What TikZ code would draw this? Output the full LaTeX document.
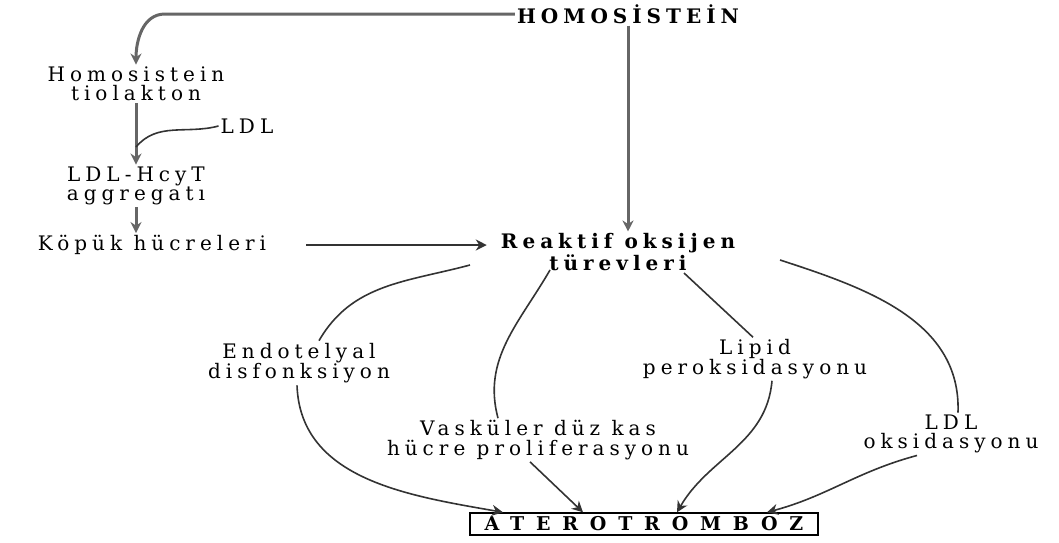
\documentclass[tikz,border=0pt]{standalone}
\usepackage{fontspec}
\setmainfont{DejaVu Serif}[LetterSpace=25]
\usetikzlibrary{arrows.meta,positioning}

\begin{document}
\begin{tikzpicture}[x=1pt, y=1pt, font=\fontsize{20}{19.5}\selectfont]
\tikzstyle{lbl}=[align=center, inner sep=2pt]
\tikzstyle{key}=[lbl, font=\fontsize{20}{19.5}\selectfont\bfseries]
\tikzstyle{ln}=[line width=1.6pt, draw=black!80]
\tikzstyle{arr}=[ln, -{Stealth[length=11pt,width=11pt]}]
\tikzstyle{thk}=[arr, line width=3pt, draw=black!60]
\useasboundingbox (0,0) rectangle (1059,-542);
% left column
\node[key] (homo) at (628,-14) {HOMOSİSTEİN};
\node[lbl] (tiol) at (136,-84) {Homosistein\\tiolakton};
\node[lbl] (ldl) at (247,-126) {LDL};
\node[lbl] (agg) at (136,-186) {LDL-HcyT\\aggregatı};
\node[lbl] (kopuk) at (152,-245) {Köpük hücreleri};
\node[key] (ros) at (618,-252) {Reaktif oksijen\\türevleri};
% effects
\node[lbl] (endo) at (299,-363) {Endotelyal\\disfonksiyon};
\node[lbl] (vask) at (538,-440) {Vasküler düz kas\\hücre proliferasyonu};
\node[lbl] (lipid) at (755,-359) {Lipid\\peroksidasyonu};
\node[lbl] (ldlox) at (951,-434) {LDL\\oksidasyonu};
\node[draw, line width=1.4pt, minimum width=348pt, minimum height=22pt, inner sep=0pt, font=\fontsize{19}{18}\selectfont\bfseries\addfontfeatures{LetterSpace=62}] (athero) at (644,-524) {ATEROTROMBOZ};
\coordinate (j1) at (136,-147);
\draw[thk] (homo.west) -- (165,-14) to[out=180,in=90] (tiol.north);
\draw[thk] (tiol.south) -- (agg.north);
\draw[ln] (ldl.west) to[out=195,in=50] (j1);
\draw[thk] (agg.south) -- (agg.south |- kopuk.north);
\draw[arr] ([xshift=38pt]kopuk.east) -- ([xshift=-12pt]ros.west |- kopuk.east);
\draw[thk] (homo.south) -- (homo.south |- ros.north);
% from ROS
\draw[ln] ([shift={(-148,-13)}]ros.center) to[out=195,in=60] ([xshift=20pt]endo.north);
\draw[ln] ([shift={(-68,-18)}]ros.center) to[out=240,in=105] ([xshift=-40pt]vask.north);
\draw[ln] ([shift={(66,-21)}]ros.center) -- ([xshift=-2pt]lipid.north);
\draw[ln] ([shift={(162,-8)}]ros.center) to[out=-18,in=88] ([xshift=7pt]ldlox.north);
% to aterotromboz
\draw[arr] ([xshift=-2pt]endo.south) to[out=-88,in=170] ([xshift=-141pt]athero.north);
\draw[arr] ([xshift=-8pt]vask.south) -- ([xshift=-61pt]athero.north);
\draw[arr] ([xshift=17pt]lipid.south) to[out=-95,in=60] ([xshift=33pt]athero.north);
\draw[arr] ([xshift=-34pt]ldlox.south) to[out=195,in=15] ([xshift=123pt]athero.north);
\end{tikzpicture}
\end{document}
